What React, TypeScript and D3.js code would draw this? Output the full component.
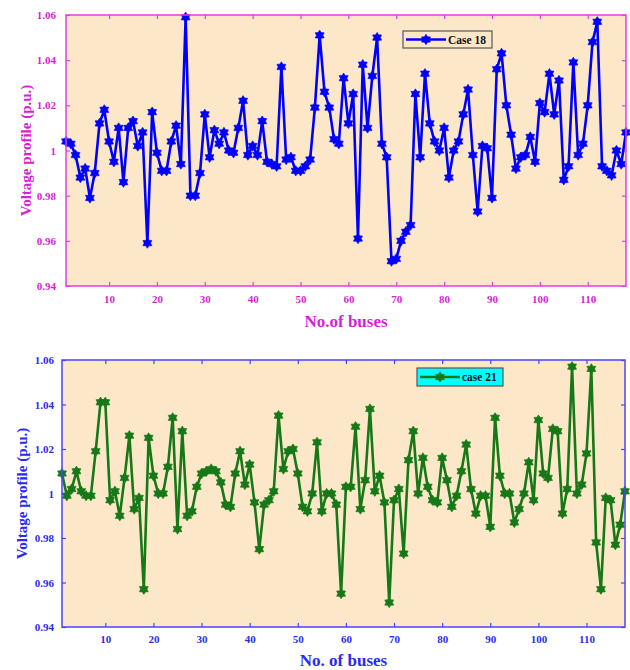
import * as d3 from "d3";
import { useEffect, useRef } from "react";

const buses = d3.range(1, 119);

const case18 = [
  1.004, 1.003, 0.998, 0.988, 0.992, 0.979, 0.99, 1.012, 1.018, 1.004,
  0.995, 1.01, 0.986, 1.01, 1.013, 1.002, 1.008, 0.959, 1.017, 0.999,
  0.991, 0.991, 1.004, 1.011, 0.994, 1.059, 0.98, 0.98, 0.99, 1.016,
  0.997, 1.009, 1.003, 1.008, 1.0, 0.999, 1.01, 1.022, 0.998, 1.002,
  0.998, 1.013, 0.995, 0.994, 0.993, 1.037, 0.996, 0.997, 0.991, 0.991,
  0.993, 0.996, 1.019, 1.051, 1.026, 1.019, 1.005, 1.003, 1.032, 1.012,
  1.025, 0.961, 1.038, 1.01, 1.033, 1.05, 1.003, 0.997, 0.951, 0.952,
  0.96, 0.964, 0.967, 1.025, 0.997, 1.034, 1.012, 1.004, 1.0, 1.01,
  0.988, 1.0, 1.004, 1.016, 1.027, 0.998, 0.973, 1.002, 1.001, 0.979,
  1.036, 1.043, 1.02, 1.007, 0.992, 0.997, 0.998, 1.006, 0.995, 1.021,
  1.017, 1.034, 1.016, 1.031, 0.987, 0.993, 1.039, 0.998, 1.003, 1.02,
  1.048, 1.057, 0.993, 0.991, 0.989, 1.0, 0.994, 1.008,
];

const case21 = [
  1.009, 0.999, 1.002, 1.01, 1.001, 0.999, 0.999, 1.019, 1.041, 1.041,
  0.997, 1.001, 0.99, 1.007, 1.026, 0.993, 0.998, 0.957, 1.025, 1.008,
  1.0, 1.0, 1.012, 1.034, 0.984, 1.028, 0.99, 0.992, 1.003, 1.009,
  1.01, 1.011, 1.01, 1.005, 0.995, 0.994, 1.009, 1.019, 1.004, 1.013,
  0.996, 0.975, 0.995, 0.997, 1.001, 1.035, 1.011, 1.019, 1.02, 1.009,
  0.994, 0.992, 1.0, 1.023, 0.992, 1.0, 1.0, 0.995, 0.955, 1.003,
  1.003, 1.03, 0.993, 1.006, 1.038, 1.001, 1.008, 0.996, 0.951, 0.997,
  1.002, 0.973, 1.015, 1.028, 1.0, 1.016, 1.003, 0.997, 0.996, 1.016,
  1.006, 0.994, 0.999, 1.01, 1.022, 1.002, 0.991, 0.999, 0.999, 0.985,
  1.034, 1.008, 1.0, 1.0, 0.987, 0.993, 1.0, 1.014, 0.997, 1.033,
  1.009, 1.007, 1.029, 1.028, 0.991, 1.002, 1.057, 1.0, 1.004, 1.018,
  1.056, 0.978, 0.957, 0.998, 0.997, 0.977, 0.986, 1.001,
];

const yTicks = [0.94, 0.96, 0.98, 1, 1.02, 1.04, 1.06];
const yTickLabels = ["0.94", "0.96", "0.98", "1", "1.02", "1.04", "1.06"];
const xTicks = [10, 20, 30, 40, 50, 60, 70, 80, 90, 100, 110];

const FONT = "'Liberation Serif', 'Times New Roman', serif";
const BG = "#fce8c9";

// six-pointed star marker (like matlab 'h')
function hexagram(cx: number, cy: number, R: number, r: number) {
  const pts: [number, number][] = d3.range(12).map((i) => {
    const a = (i * Math.PI) / 6 - Math.PI / 2;
    const rad = i % 2 === 0 ? R : r;
    return [cx + rad * Math.cos(a), cy + rad * Math.sin(a)];
  });
  return d3.line().curve(d3.curveLinearClosed)(pts) as string;
}

interface PanelOpts {
  values: number[];
  left: number;
  right: number;
  top: number;
  bottom: number;
  lineColor: string;
  axisColor: string;
  textColor: string;
  xTitle: string;
  xTitleY: number;
  yTitleX: number;
  xPad: number;
  yPad: number;
  legend: { x: number; y: number; w: number; h: number; fill: string; label: string };
}

function drawPanel(svg: d3.Selection<SVGSVGElement, unknown, null, undefined>, o: PanelOpts) {
  const x = d3.scaleLinear().domain([1, 118]).range([o.left, o.right]);
  const y = d3.scaleLinear().domain([0.94, 1.06]).range([o.bottom, o.top]);
  const g = svg.append("g");

  g.append("rect")
    .attr("x", o.left).attr("y", o.top)
    .attr("width", o.right - o.left).attr("height", o.bottom - o.top)
    .attr("fill", BG);

  const styleAxis = (a: d3.Selection<SVGGElement, unknown, null, undefined>) => {
    a.select(".domain").remove();
    a.selectAll("line").attr("stroke", o.axisColor).attr("stroke-width", 1.2);
    a.selectAll("text")
      .attr("fill", o.textColor)
      .style("font-family", FONT)
      .style("font-size", "11px")
      .style("font-weight", "bold");
  };

  // bottom + left axes with labels, top + right mirrored ticks
  g.append("g").attr("transform", `translate(0,${o.bottom})`)
    .call(d3.axisBottom(x).tickValues(xTicks).tickSize(-4).tickPadding(o.xPad))
    .call(styleAxis);
  g.append("g").attr("transform", `translate(0,${o.top})`)
    .call(d3.axisTop(x).tickValues(xTicks).tickSize(-4).tickFormat(() => ""))
    .call(styleAxis);
  g.append("g").attr("transform", `translate(${o.left},0)`)
    .call(d3.axisLeft(y).tickValues(yTicks).tickSize(-4).tickPadding(o.yPad)
      .tickFormat((_, i) => yTickLabels[i]))
    .call(styleAxis);
  g.append("g").attr("transform", `translate(${o.right},0)`)
    .call(d3.axisRight(y).tickValues(yTicks).tickSize(-4).tickFormat(() => ""))
    .call(styleAxis);

  const line = d3.line<number>()
    .x((_, i) => x(buses[i]))
    .y((d) => y(d));

  g.append("path")
    .datum(o.values)
    .attr("d", line)
    .attr("fill", "none")
    .attr("stroke", o.lineColor)
    .attr("stroke-width", 2.6)
    .attr("stroke-linejoin", "round");

  g.selectAll("path.mark")
    .data(o.values)
    .enter()
    .append("path")
    .attr("class", "mark")
    .attr("d", (d, i) => hexagram(x(buses[i]), y(d), 5.2, 3.2))
    .attr("fill", o.lineColor)
    .attr("stroke", o.lineColor)
    .attr("stroke-width", 0.6);

  g.append("rect")
    .attr("x", o.left).attr("y", o.top)
    .attr("width", o.right - o.left).attr("height", o.bottom - o.top)
    .attr("fill", "none")
    .attr("stroke", o.axisColor)
    .attr("stroke-width", 1.5);

  // titles
  g.append("text")
    .attr("x", (o.left + o.right) / 2)
    .attr("y", o.xTitleY)
    .attr("text-anchor", "middle")
    .attr("fill", o.textColor)
    .style("font-family", FONT)
    .style("font-size", "17px")
    .style("font-weight", "bold")
    .text(o.xTitle);

  g.append("text")
    .attr("transform", `translate(${o.yTitleX},${(o.top + o.bottom) / 2}) rotate(-90)`)
    .attr("text-anchor", "middle")
    .attr("fill", o.textColor)
    .style("font-family", FONT)
    .style("font-size", "15px")
    .style("font-weight", "bold")
    .text("Voltage profile (p.u.)");

  // legend
  const L = o.legend;
  const lg = g.append("g");
  lg.append("rect")
    .attr("x", L.x).attr("y", L.y).attr("width", L.w).attr("height", L.h)
    .attr("fill", L.fill)
    .attr("stroke", "#555")
    .attr("stroke-width", 1.2);
  const ly = L.y + L.h / 2;
  lg.append("line")
    .attr("x1", L.x + 3).attr("x2", L.x + 43)
    .attr("y1", ly).attr("y2", ly)
    .attr("stroke", o.lineColor)
    .attr("stroke-width", 2.6);
  lg.append("path")
    .attr("d", hexagram(L.x + 23, ly, 5.2, 3.2))
    .attr("fill", o.lineColor)
    .attr("stroke", o.lineColor)
    .attr("stroke-width", 0.6);
  lg.append("text")
    .attr("x", L.x + 45)
    .attr("y", ly + 4)
    .attr("fill", "#111")
    .style("font-family", FONT)
    .style("font-size", "11.5px")
    .style("font-weight", "bold")
    .text(L.label);
}

export default function App() {
  const svgRef = useRef<SVGSVGElement | null>(null);

  useEffect(() => {
    if (!svgRef.current) return;
    const svg = d3.select(svgRef.current);
    svg.selectAll("*").remove();

    drawPanel(svg, {
      values: case18,
      left: 66, right: 626, top: 15, bottom: 286,
      lineColor: "#0000ff",
      axisColor: "#e040e0",
      textColor: "#d61fd6",
      xTitle: "No.of buses",
      xTitleY: 327,
      yTitleX: 31,
      xPad: 9,
      yPad: 10,
      legend: { x: 403, y: 31, w: 89, h: 17, fill: BG, label: "Case 18" },
    });

    drawPanel(svg, {
      values: case21,
      left: 62, right: 625, top: 360, bottom: 627,
      lineColor: "#167816",
      axisColor: "#4646ff",
      textColor: "#2b2bf0",
      xTitle: "No. of buses",
      xTitleY: 666,
      yTitleX: 27,
      xPad: 8,
      yPad: 8,
      legend: { x: 417, y: 368, w: 86, h: 18, fill: "#00ffff", label: "case 21" },
    });
  }, []);

  return (
    <svg
      ref={svgRef}
      width={630}
      height={670}
      style={{ position: "absolute", left: 0, top: 0, background: "#fff" }}
    />
  );
}
